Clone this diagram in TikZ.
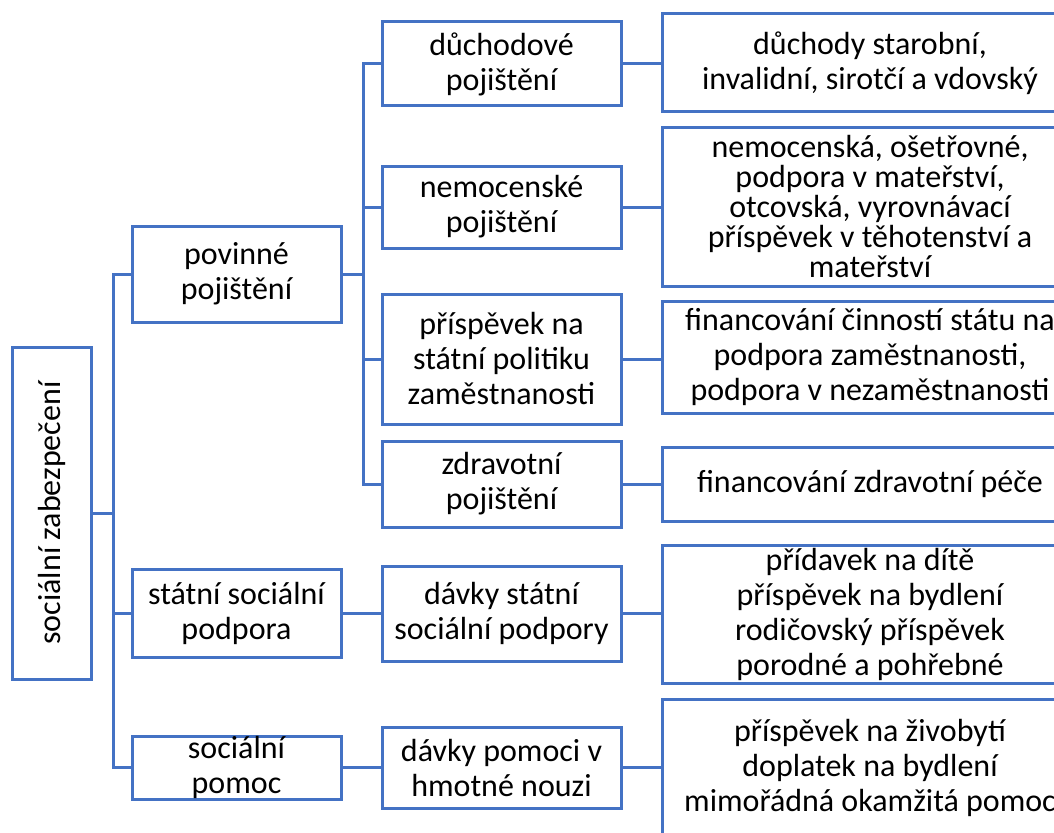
\documentclass[tikz,border=0pt]{standalone}
\usepackage{fontspec}
\setmainfont{Carlito}
\usepackage{graphicx}
\usepackage{tikz}
\usetikzlibrary{calc,positioning}
\definecolor{accent}{HTML}{4472C4}

\begin{document}
\begin{tikzpicture}[x=1pt, y=-1pt,
  box/.style={draw=accent, line width=3pt, fill=white, inner sep=0pt, align=center, font=\fontsize{32}{35}\selectfont},
  link/.style={draw=accent, line width=3pt}]
\path[use as bounding box, clip] (0,0) rectangle (1054,832);
\node[box, minimum width=79, minimum height=332] (root) at (51.5,513) {\rotatebox{90}{sociální zabezpečení}};
\foreach \n/\y/\h/\txt in {pov/274/96/{povinné\\pojištění}, ssp/613/88/{státní sociální\\podpora}} {
  \node[box, minimum width=209, minimum height=\h] (\n) at (236.5,\y) {\txt};
}
\node[box, minimum width=209, minimum height=63] (pom) at (236.5,767.5) {\parbox[c][40pt][c]{200pt}{\centering sociální\\pomoc}};
\foreach \n/\y/\h/\txt in {duch/64/84/{důchodové\\pojištění}, nem/207/82/{nemocenské\\pojištění},
    prisp/359/130/{příspěvek na\\státní politiku\\zaměstnanosti}, zdr/484/86/{zdravotní\\pojištění},
    dss/613.5/95/{dávky státní\\sociální podpory}, dpn/767.5/81/{dávky pomoci v\\hmotné nouzi}} {
  \node[box, minimum width=239, minimum height=\h] (\n) at (501.5,\y) {\txt};
}
\foreach \n/\y/\h/\txt in {duchL/63/98/{důchody starobní,\\invalidní, sirotčí a vdovský},
    prispL/357/112/{financování činností státu na\\podpora zaměstnanosti,\\podpora v nezaměstnanosti},
    zdrL/484/74/{financování zdravotní péče},
    dssL/614/138/{přídavek na dítě\\příspěvek na bydlení\\rodičovský příspěvek\\porodné a pohřebné},
    dpnL/768/138/{příspěvek na živobytí\\doplatek na bydlení\\mimořádná okamžitá pomoc}} {
  \node[box, minimum width=416, minimum height=\h] (\n) at (870,\y) {\txt};
}
\node[box, minimum width=416, minimum height=158, font=\fontsize{32}{30}\selectfont] (nemL) at (870,207)
  {nemocenská, ošetřovné,\\podpora v mateřství,\\otcovská, vyrovnávací\\příspěvek v těhotenství a\\mateřství};
\foreach \c in {pov, ssp, pom} {
  \draw[link] (root.east) -- ++(20.5,0) |- (\c.west);
}
\foreach \c in {duch, nem, prisp, zdr} {
  \draw[link] (pov.east) -- ++(20.5,0) |- (\c.west);
}
\draw[link] (ssp.east) -- (ssp.east -| dss.west);
\draw[link] (pom.east) -- (pom.east -| dpn.west);
\foreach \c in {duch, nem, prisp, zdr, dss, dpn} {
  \draw[link] (\c.east) -- (\c.east -| \c L.west);
}
\end{tikzpicture}
\end{document}
